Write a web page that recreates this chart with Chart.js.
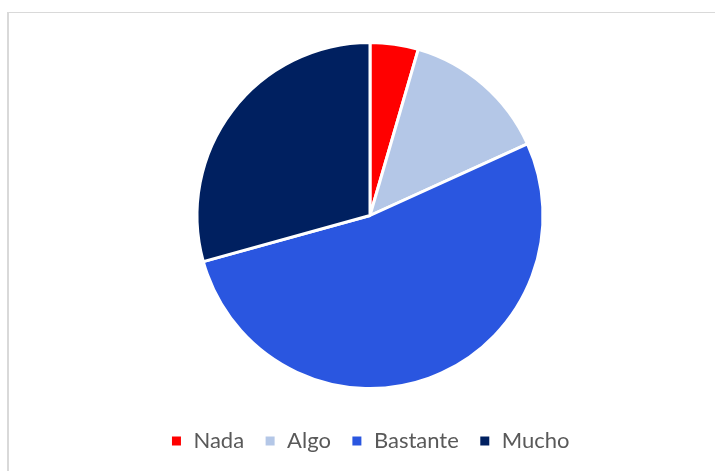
<!DOCTYPE html>
<html>
<head>
<meta charset="utf-8">
<script src="https://cdn.jsdelivr.net/npm/chart.js@4/dist/chart.umd.min.js"></script>
<style>
  html, body { margin: 0; padding: 0; background: #fff; }
  #marco {
    position: absolute; left: 7px; top: 12px; width: 708px; height: 459px;
    border-top: 1px solid #d9d9d9; border-left: 2px solid #d9d9d9;
  }
  #lienzo { position: absolute; left: 0; top: 0; width: 715px; height: 471px; }
</style>
</head>
<body>
<div id="marco"></div>
<div id="lienzo"><canvas id="grafico" width="715" height="471"></canvas></div>
<script>
var categorias = ["Nada", "Algo", "Bastante", "Mucho"];
var valores = [4.5, 13.7, 52.5, 29.3];
var colores = ["#FF0000", "#B4C7E7", "#2A56E0", "#002060"];

var ctx = document.getElementById("grafico").getContext("2d");
var grafico = new Chart(ctx, {
  type: "pie",
  data: {
    labels: categorias,
    datasets: [{
      data: valores,
      backgroundColor: colores,
      borderColor: "#ffffff",
      borderWidth: 3
    }]
  },
  options: {
    responsive: false,
    animation: false,
    layout: { padding: { left: 25, right: 0, top: 41, bottom: 9 } },
    plugins: {
      tooltip: { enabled: false },
      legend: {
        position: "bottom",
        title: { display: true, text: " ", font: { size: 10 }, padding: { top: 8, bottom: 0 } },
        labels: {
          boxWidth: 12,
          boxHeight: 12,
          padding: 20,
          color: "#595959",
          font: { family: "Lato, 'Open Sans', sans-serif", size: 22 }
        }
      }
    }
  }
});
</script>
</body>
</html>
